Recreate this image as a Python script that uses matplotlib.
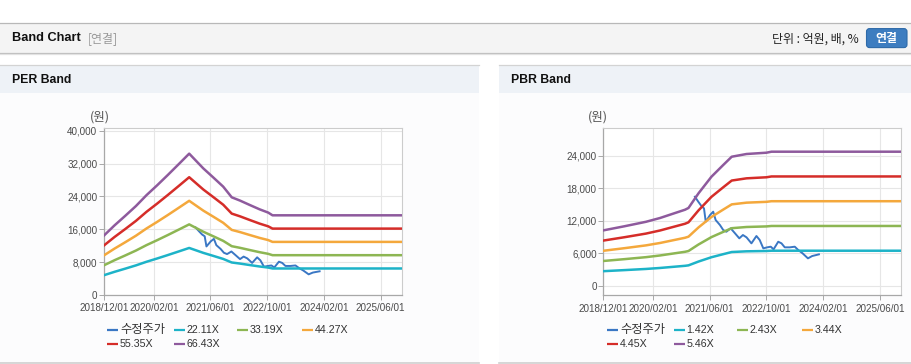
import matplotlib
matplotlib.use('Agg')
import matplotlib.pyplot as plt
import matplotlib.dates as mdates
from matplotlib.patches import Rectangle, FancyBboxPatch
from matplotlib.ticker import FuncFormatter
import numpy as np
import pandas as pd

# ---- data ----
per_multiples = [22.11, 33.19, 44.27, 55.35, 66.43]
pbr_multiples = [1.42, 2.43, 3.44, 4.45, 5.46]

eps_dates = ['2018-12-01', '2019-03-01', '2019-06-01', '2019-09-01', '2019-12-01',
             '2020-03-01', '2020-06-01', '2020-09-01', '2020-12-01', '2021-04-01',
             '2021-06-25', '2021-09-19', '2021-12-01', '2022-02-10', '2022-05-04',
             '2022-07-28', '2022-10-10', '2022-11-16', '2025-12-01']
eps_values = [218, 255, 290, 326, 366, 402, 440, 479, 518, 464,
              431, 397, 358, 346, 330, 314, 302, 292, 292]

bps_dates = ['2018-12-01', '2019-06-01', '2019-12-01', '2020-04-01', '2020-08-01',
             '2020-11-01', '2020-12-01', '2021-02-25', '2021-06-16', '2021-09-25',
             '2021-12-07', '2022-04-13', '2022-10-01', '2022-11-13', '2025-12-01']
bps_values = [1870, 2010, 2160, 2290, 2450, 2570, 2630, 3127, 3690, 4087,
              4368, 4460, 4504, 4538, 4538]

price_dates = ['2021-01-25', '2021-02-23', '2021-03-22', '2021-04-13', '2021-04-28',
               '2021-06-04', '2021-07-01', '2021-07-22', '2021-08-28', '2021-09-25',
               '2021-10-22', '2021-11-28', '2022-01-04', '2022-02-10', '2022-03-13',
               '2022-04-13', '2022-05-25', '2022-07-07', '2022-08-04', '2022-09-04',
               '2022-10-07', '2022-11-07', '2022-12-01', '2023-01-10', '2023-02-07',
               '2023-03-07', '2023-04-19', '2023-06-01', '2023-07-01', '2023-08-07',
               '2023-09-22', '2023-10-28', '2023-12-25']
price_values = [16440, 15520, 14720, 14290, 11820, 13060, 13670, 12130, 11200, 10280,
                9960, 10590, 9670, 8740, 9350, 8920, 7810, 9170, 8430, 6880,
                7070, 7190, 6700, 8110, 7810, 7070, 7070, 7190, 6570, 5960,
                5030, 5460, 5770]

x_ticks = ['2018-12-01', '2020-02-01', '2021-06-01', '2022-10-01', '2024-02-01', '2025-06-01']
x_range = ['2018-12-01', '2025-12-01']

price_label = '수정주가'
band_colors = ['#1db3c8', '#8db653', '#f4a83c', '#d52d29', '#8e5a9d']
price_color = '#3a77c4'

KR = ['Noto Sans CJK KR', 'DejaVu Sans']
LAT = ['Liberation Sans', 'DejaVu Sans']

W, H = 912, 364
fig = plt.figure(figsize=(W / 100, H / 100), dpi=100)

# page background in pixel coordinates
bg = fig.add_axes([0, 0, 1, 1])
bg.set_xlim(0, W)
bg.set_ylim(H, 0)
bg.axis('off')

# header bar
bg.add_patch(Rectangle((0, 22.5), W, 30, fc='#f4f4f4', ec='none'))
bg.plot([0, W], [22.5, 22.5], color='#b8b8b8', lw=0.9)
bg.plot([0, W], [52.8, 52.8], color='#bdbdbd', lw=0.9)
bg.plot([0, W], [53.8, 53.8], color='#e2e2e2', lw=0.9)
bg.text(12, 38, 'Band Chart', fontsize=9.2, fontweight='bold', color='#111',
        family=LAT, va='center', ha='left')
bg.text(88, 38.5, '[연결]', fontsize=8.6, color='#999', family=KR, va='center', ha='left')
bg.text(859, 39, '단위 : 억원, 배, %', fontsize=8.6, color='#222', family=KR,
        va='center', ha='right')
bg.add_patch(FancyBboxPatch((866.5, 28.6), 40.5, 19, boxstyle='round,pad=0,rounding_size=3',
                            fc='#3d7dc0', ec='#2e6aa8', lw=0.8))
bg.text(886.7, 38.2, '연결', fontsize=8.6, color='white', fontweight='bold', family=KR,
        va='center', ha='center')

# panels
for x0, x1, title in [(0, 479, 'PER Band'), (499, W, 'PBR Band')]:
    bg.add_patch(Rectangle((x0, 64.5), x1 - x0, 28, fc='#eef2f7', ec='none'))
    bg.add_patch(Rectangle((x0, 92.5), x1 - x0, 270, fc='#fcfcfd', ec='none'))
    bg.plot([x0, x1], [64.6, 64.6], color='#d3d3d3', lw=0.9)
    bg.plot([x0, x1], [362.8, 362.8], color='#cfcfcf', lw=1.2)
    bg.text(x0 + 12, 80, title, fontsize=8.8, fontweight='bold', color='#111',
            family=LAT, va='center', ha='left')


def px_axes(left, right, top, bottom):
    return fig.add_axes([left / W, 1 - bottom / H, (right - left) / W, (bottom - top) / H])


def style(ax, ylim, yticks):
    ax.set_facecolor('white')
    ax.set_xlim(pd.to_datetime(x_range[0]), pd.to_datetime(x_range[1]))
    ax.set_ylim(*ylim)
    ax.set_yticks(yticks)
    ax.set_xticks(pd.to_datetime(x_ticks))
    ax.xaxis.set_major_formatter(mdates.DateFormatter('%Y/%m/%d'))
    ax.yaxis.set_major_formatter(FuncFormatter(lambda v, p: f'{v:,.0f}'))
    ax.grid(True, color='#e6e6e6', lw=0.8)
    ax.set_axisbelow(True)
    for s in ['top', 'right']:
        ax.spines[s].set_color('#cccccc')
        ax.spines[s].set_linewidth(0.8)
    for s in ['left', 'bottom']:
        ax.spines[s].set_color('#a8a8a8')
        ax.spines[s].set_linewidth(0.9)
    ax.tick_params(axis='both', length=3.6, width=0.7, color='#a8a8a8',
                   labelsize=7.1, labelcolor='#4a4a4a')
    ax.tick_params(axis='x', pad=2.5)
    ax.tick_params(axis='y', pad=1.2)
    for lab in ax.get_xticklabels() + ax.get_yticklabels():
        lab.set_family(LAT)


charts = [
    dict(box=(104, 402, 128.3, 295), base_d=eps_dates, base_v=eps_values, mult=per_multiples,
         ylim=(0, 40580), yticks=np.arange(0, 40001, 8000), unit_x=99.5, leg_x=107),
    dict(box=(603.3, 901.3, 128.3, 295.3), base_d=bps_dates, base_v=bps_values, mult=pbr_multiples,
         ylim=(-1810, 29110), yticks=np.arange(0, 24001, 6000), unit_x=598, leg_x=606.7),
]

pdates = pd.to_datetime(price_dates)
for c in charts:
    ax = px_axes(*c['box'])
    ax.plot(pdates, price_values, color=price_color, lw=1.4, zorder=2)
    bdates = pd.to_datetime(c['base_d'])
    base = np.array(c['base_v'], dtype=float)
    for m, col in zip(c['mult'], band_colors):
        ax.plot(bdates, base * m, color=col, lw=1.8, zorder=3, solid_joinstyle='round')
    style(ax, c['ylim'], c['yticks'])

    bg.text(c['unit_x'], 117, '(원)', fontsize=9, color='#555', family=KR,
            va='center', ha='center')

    # legend (Highcharts style, two rows)
    labels = [price_label] + [f'{m:.2f}X' for m in c['mult']]
    colors = [price_color] + band_colors
    offsets = [(0, 330), (67, 330), (130, 330), (195, 330), (0, 343.7), (67, 343.7)]
    for lab, col, (dx, yy) in zip(labels, colors, offsets):
        x0 = c['leg_x'] + dx
        bg.plot([x0, x0 + 11], [yy, yy], color=col, lw=1.6, solid_capstyle='butt')
        if lab == price_label:
            bg.text(x0 + 13.5, yy, lab, fontsize=8.8, color='#333', family=KR,
                    va='center', ha='left')
        else:
            bg.text(x0 + 13, yy + 0.3, lab, fontsize=7.7, color='#333', family=LAT,
                    va='center', ha='left')

plt.savefig('out.png', dpi=100)
print('saved out.png')
